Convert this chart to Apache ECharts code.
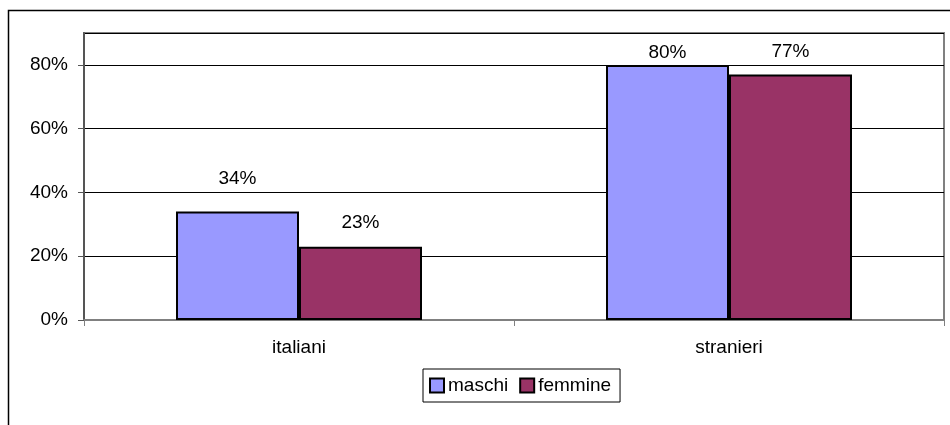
<!DOCTYPE html>
<html>
<head>
<meta charset="utf-8">
<script src="https://cdn.jsdelivr.net/npm/echarts@6/dist/echarts.min.js"></script>
<style>
  html, body { margin: 0; padding: 0; background: #fff; }
  #chart { width: 950px; height: 425px; }
</style>
</head>
<body>
<div id="chart"></div>
<script>
// dati
var categories = ['italiani', 'stranieri']
var maschi = [34, 80]
var femmine = [23, 77]
var yTicks = [0, 20, 40, 60, 80]

// distanza etichetta-barra (Excel le ha spostate a mano)
var gapMaschi = [23, 3]
var gapFemmine = [14, 13]

var font = 'Liberation Sans, Arial, sans-serif'

function withLabels(values, gaps) {
  return values.map(function(v, i) {
    return { value: v, label: { distance: gaps[i] } }
  })
}

var chart = echarts.init(document.getElementById('chart'), null, { renderer: 'canvas' })

var option = {
  animation: false,
  backgroundColor: '#fff',
  textStyle: { fontFamily: font },
  graphic: [{
    type: 'rect',
    shape: { x: 8.5, y: 10.5, width: 1000, height: 1000 },
    style: { fill: 'none', stroke: '#000', lineWidth: 1.5 },
    silent: true
  }],
  grid: {
    left: 84,
    right: 6,
    top: 33,
    bottom: 105,
    show: true,
    borderColor: '#808080',
    borderWidth: 2
  },
  legend: {
    left: 423,
    top: 369,
    padding: [6, 9, 6, 6],
    borderColor: '#000',
    borderWidth: 1,
    borderRadius: 0,
    itemWidth: 14,
    itemHeight: 14,
    itemGap: 11,
    icon: 'rect',
    textStyle: { fontSize: 19, color: '#000', fontFamily: font, lineHeight: 21, padding: [0, 0, 0, -1] },
    data: ['maschi', 'femmine']
  },
  xAxis: {
    type: 'category',
    data: categories,
    boundaryGap: true,
    axisLine: { lineStyle: { color: '#808080', width: 2 } },
    axisTick: { show: true, length: 6, lineStyle: { color: '#808080', width: 1 } },
    axisLabel: { fontSize: 19, color: '#000', margin: 18, fontFamily: font }
  },
  yAxis: {
    type: 'value',
    min: 0,
    max: 90,
    interval: 20,
    axisLine: { show: true, lineStyle: { color: '#555', width: 2 } },
    axisTick: { show: true, length: 6, lineStyle: { color: '#555', width: 1 } },
    splitLine: { show: true, lineStyle: { color: '#000', width: 1 } },
    axisLabel: {
      fontSize: 19,
      color: '#000',
      margin: 16,
      fontFamily: font,
      showMaxLabel: false,
      formatter: function(v) { return yTicks.indexOf(v) >= 0 ? v + '%' : '' }
    }
  },
  series: [
    {
      name: 'maschi',
      type: 'bar',
      barWidth: 123,
      barGap: '0%',
      itemStyle: { color: '#9999FF', borderColor: '#000', borderWidth: 2 },
      label: { show: true, position: 'top', fontSize: 19, color: '#000', fontFamily: font, formatter: '{c}%' },
      data: withLabels(maschi, gapMaschi)
    },
    {
      name: 'femmine',
      type: 'bar',
      barWidth: 123,
      barGap: '0%',
      itemStyle: { color: '#993366', borderColor: '#000', borderWidth: 2 },
      label: { show: true, position: 'top', fontSize: 19, color: '#000', fontFamily: font, formatter: '{c}%' },
      data: withLabels(femmine, gapFemmine)
    }
  ]
}

chart.setOption(option)
</script>
</body>
</html>
